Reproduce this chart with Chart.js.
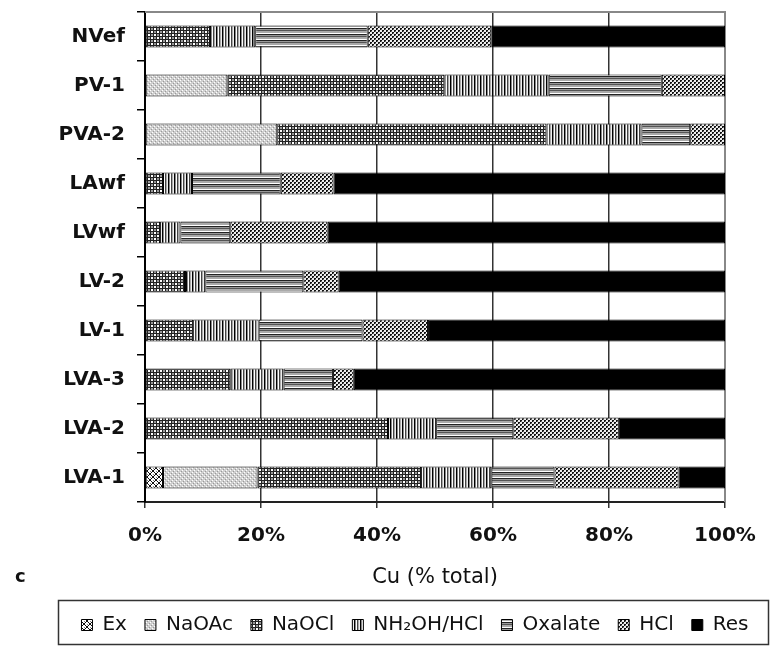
<!DOCTYPE html>
<html>
<head>
<meta charset="utf-8">
<script src="https://cdn.jsdelivr.net/npm/chart.js@4/dist/chart.umd.min.js"></script>
<style>
html,body{margin:0;padding:0;background:#fff;}
#wrap{position:relative;width:770px;height:651px;}
</style>
</head>
<body>
<div id="wrap"><canvas id="c"></canvas></div>
<script>
// ---- data (top to bottom) ----
const categories = ['NVef','PV-1','PVA-2','LAwf','LVwf','LV-2','LV-1','LVA-3','LVA-2','LVA-1'];
const seriesNames = ['Ex','NaOAc','NaOCl','NH\u2082OH/HCl','Oxalate','HCl','Res'];
const exVals      = [0, 0, 0, 0, 0, 0, 0, 0, 0, 3.1];
const naoacVals   = [0, 14.2, 22.8, 0, 0, 0, 0, 0, 0, 16.3];
const naoclVals   = [11.2, 37.4, 46.4, 3.1, 2.6, 6.9, 8.3, 14.7, 41.9, 28.2];
const nh2ohVals   = [7.8, 18.0, 16.4, 5.0, 3.5, 3.5, 11.3, 9.2, 8.3, 12.1];
const oxalateVals = [19.4, 19.5, 8.4, 15.3, 8.6, 16.9, 17.9, 8.5, 13.3, 10.9];
const hclVals     = [21.3, 10.9, 6.0, 9.1, 16.8, 6.1, 11.3, 3.6, 18.2, 21.4];
const resVals     = [40.3, 0, 0, 67.5, 68.5, 66.6, 51.2, 64.0, 18.3, 8.0];
const xTicks      = [0, 20, 40, 60, 80, 100];

// ---- fill patterns ----
function makePattern(w, h, draw){
  const c = document.createElement('canvas');
  c.width = w; c.height = h;
  const g = c.getContext('2d');
  draw(g);
  return g.createPattern(c, 'repeat');
}
const pEx = makePattern(6,6,g=>{
  g.fillStyle='#fff'; g.fillRect(0,0,6,6);
  g.fillStyle='#111';
  for(let i=0;i<6;i++){ g.fillRect(i,i,1,1); g.fillRect(5-i,i,1,1); }
  g.fillStyle='#888'; g.fillRect(0,3,1,1); g.fillRect(3,0,1,1);
});
const pNaOAc = makePattern(4,4,g=>{
  g.fillStyle='#cfcfcf'; g.fillRect(0,0,4,4);
  g.fillStyle='#fff'; g.fillRect(0,0,1,1); g.fillRect(2,2,1,1);
  g.fillStyle='#999'; g.fillRect(1,3,1,1); g.fillRect(3,1,1,1);
});
const pNaOCl = makePattern(6,6,g=>{
  g.fillStyle='#222'; g.fillRect(0,0,6,6);
  g.fillStyle='#fff'; g.fillRect(1,1,2,2); g.fillRect(4,4,2,2);
  g.fillStyle='#999'; g.fillRect(4,1,2,2); g.fillRect(1,4,2,2);
});
const pNH2OH = makePattern(6,1,g=>{
  const cols=['#000','#888','#fff','#444','#aaa','#eee'];
  cols.forEach((c,i)=>{g.fillStyle=c; g.fillRect(i,0,1,1);});
});
const pOxalate = makePattern(1,6,g=>{
  const cols=['#555','#aaa','#aaa','#fff','#222','#999'];
  cols.forEach((c,i)=>{g.fillStyle=c; g.fillRect(0,i,1,1);});
});
const pHCl = makePattern(4,4,g=>{
  g.fillStyle='#eee'; g.fillRect(0,0,4,4);
  g.fillStyle='#111'; g.fillRect(0,0,2,2); g.fillRect(2,2,2,2);
  g.fillStyle='#777'; g.fillRect(1,1,1,1); g.fillRect(3,3,1,1);
});
const fills = [pEx, pNaOAc, pNaOCl, pNH2OH, pOxalate, pHCl, '#000'];
const valueLists = [exVals, naoacVals, naoclVals, nh2ohVals, oxalateVals, hclVals, resVals];

const datasets = seriesNames.map((name,i)=>({
  label: name,
  data: valueLists[i],
  backgroundColor: fills[i],
  borderColor: '#000',
  borderWidth: 1,
  borderSkipped: false,
  barPercentage: 0.9,
  categoryPercentage: 0.5
}));

const FONT = "'DejaVu Sans', sans-serif";

const framePlugin = {
  id: 'frame',
  beforeDatasetsDraw(chart){
    const {ctx, chartArea:a} = chart;
    ctx.save();
    ctx.strokeStyle = '#888';
    ctx.lineWidth = 2;
    ctx.beginPath();
    ctx.moveTo(a.left, a.top); ctx.lineTo(a.right, a.top); ctx.lineTo(a.right, a.bottom);
    ctx.stroke();
    ctx.restore();
  },
  afterDraw(chart){
    const {ctx} = chart;
    ctx.save();
    ctx.strokeStyle = '#333';
    ctx.lineWidth = 1.5;
    ctx.strokeRect(58.5, 600.5, 710, 44);
    ctx.fillStyle = '#111';
    ctx.font = "bold 18px " + FONT;
    ctx.textBaseline = 'middle';
    ctx.fillText('c', 15, 577);
    ctx.restore();
  }
};

new Chart(document.getElementById('c'), {
  type: 'bar',
  data: { labels: categories, datasets },
  options: {
    indexAxis: 'y',
    responsive: true,
    maintainAspectRatio: false,
    animation: false,
    layout: { padding: { left: 60, top: 12, right: 0, bottom: 6 } },
    plugins: {
      tooltip: { enabled: false },
      legend: {
        position: 'bottom',
        labels: {
          boxWidth: 11, boxHeight: 11, padding: 18,
          color: '#111',
          font: { family: FONT, size: 20 }
        }
      }
    },
    scales: {
      x: {
        stacked: true, min: 0, max: 100,
        afterBuildTicks(scale){ scale.ticks = xTicks.map(v=>({value:v})); },
        afterFit(scale){ scale.height = 95; scale.paddingRight = 45; },
        ticks: {
          color: '#111', padding: 16,
          font: { family: FONT, size: 20, weight: 'bold' },
          callback: v => v + '%'
        },
        grid: { color: '#333', lineWidth: 1.5, tickLength: 6, tickColor: '#333' },
        border: { color: '#222', width: 2 },
        title: {
          display: true, text: 'Cu (% total)', color: '#111',
          font: { family: FONT, size: 21 },
          padding: { top: 0, bottom: 7 }
        }
      },
      y: {
        stacked: true,
        afterFit(scale){ scale.width = 85; scale.paddingTop = 0; scale.paddingBottom = 0; },
        ticks: {
          color: '#111', padding: 12,
          font: { family: FONT, size: 20, weight: 'bold' }
        },
        grid: { drawOnChartArea: false, tickLength: 8, tickColor: '#000', lineWidth: 1.5 },
        border: { color: '#000', width: 2 }
      }
    }
  },
  plugins: [framePlugin]
});
</script>
</body>
</html>
